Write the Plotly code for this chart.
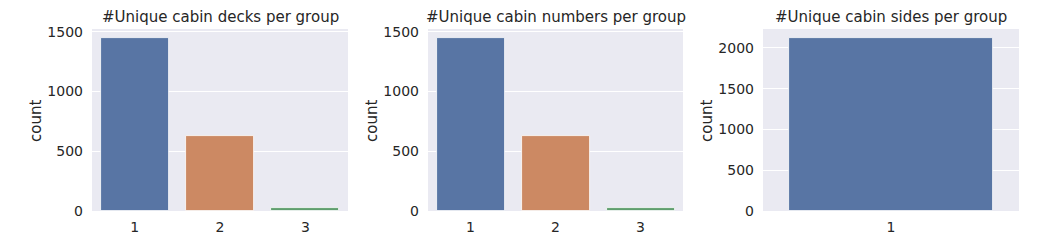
import plotly.graph_objects as go

# Data
decks_cats = ["1", "2", "3"]
decks_counts = [1451, 630, 26]
numbers_cats = ["1", "2", "3"]
numbers_counts = [1451, 630, 26]
sides_cats = ["1"]
sides_counts = [2125]

titles = ["#Unique cabin decks per group", "#Unique cabin numbers per group", "#Unique cabin sides per group"]
palette = ["#5875A4", "#CC8963", "#5F9E6E"]

W, H = 1054, 250
BG = "#EAEAF2"
TXT = "#262626"
FONT = "DejaVu Sans"

# pixel boxes of plot areas
boxes = [(92, 348), (428, 683), (763, 1019)]
ytop, ybot = 29, 211
ydom = [(H - ybot) / H, (H - ytop) / H]

fig = go.Figure()
datasets = [(decks_cats, decks_counts), (numbers_cats, numbers_counts), (sides_cats, sides_counts)]
for i, (cats, vals) in enumerate(datasets):
    xa = "x" if i == 0 else f"x{i+1}"
    ya = "y" if i == 0 else f"y{i+1}"
    fig.add_trace(go.Bar(
        x=cats, y=vals, width=0.8,
        marker=dict(color=palette[:len(cats)], line=dict(color="white", width=0.8)),
        xaxis=xa, yaxis=ya, showlegend=False, hoverinfo="x+y",
    ))
    x0, x1 = boxes[i]
    xkey = "xaxis" if i == 0 else f"xaxis{i+1}"
    ykey = "yaxis" if i == 0 else f"yaxis{i+1}"
    fig.layout[xkey] = dict(
        domain=[x0 / W, x1 / W], anchor=ya, type="category", automargin=False,
        range=[-0.5, len(cats) - 0.5], showgrid=False, zeroline=False,
        showline=False, ticks="", tickfont=dict(family=FONT, size=14, color=TXT),
        ticklabelstandoff=6,
    )
    fig.layout[ykey] = dict(
        domain=ydom, anchor=xa, range=[0, max(vals) * 1.05], dtick=500, automargin=False,
        showgrid=True, gridcolor="white", gridwidth=1, zeroline=False,
        showline=False, ticks="", tickfont=dict(family=FONT, size=14, color=TXT),
        ticklabelstandoff=8,
    )
    fig.add_annotation(
        text=titles[i], xref="paper", yref="paper",
        x=(x0 + x1) / 2 / W, y=(H - 17) / H, xanchor="center", yanchor="middle",
        showarrow=False, font=dict(family=FONT, size=15, color=TXT),
    )
    fig.add_annotation(
        text="count", xref="paper", yref="paper", textangle=-90,
        x=(x0 - 56) / W, y=(H - 121) / H, xanchor="center", yanchor="middle",
        showarrow=False, font=dict(family=FONT, size=15, color=TXT),
    )

fig.update_layout(
    width=W, height=H, margin=dict(l=0, r=0, t=0, b=0),
    paper_bgcolor="white", plot_bgcolor=BG, bargap=0,
    font=dict(family=FONT, color=TXT),
)

fig.write_html("out.html")
